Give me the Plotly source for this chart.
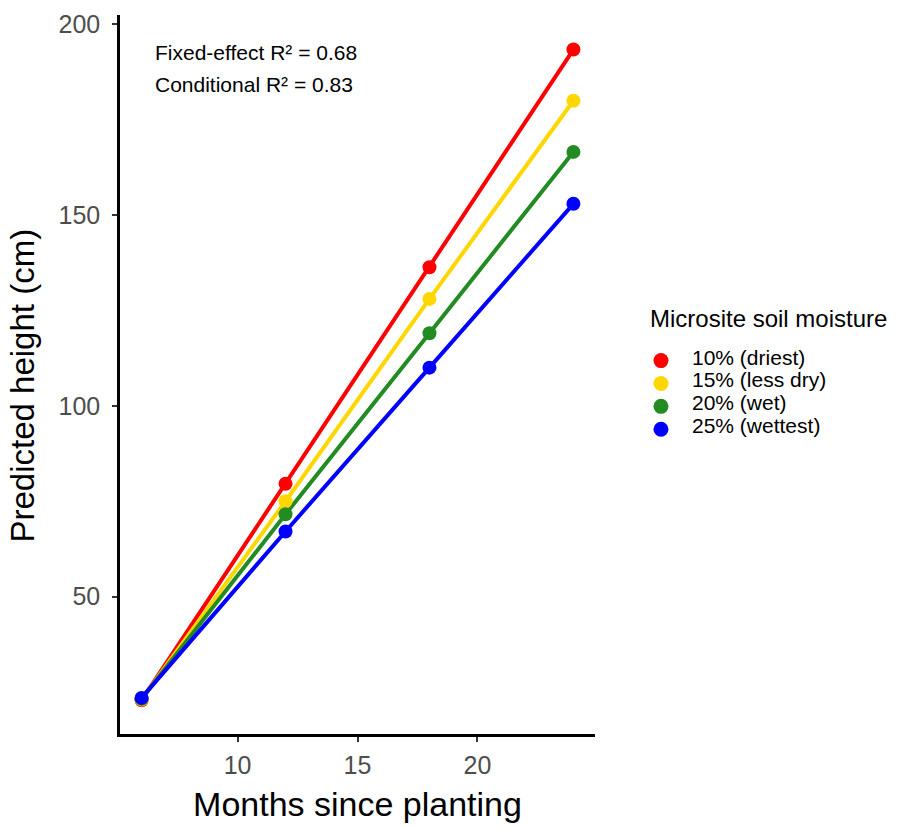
import plotly.graph_objects as go

# Predicted seedling height by months since planting, per microsite moisture level
months = [6, 12, 18, 24]
moisture_levels = ["10% (driest)", "15% (less dry)", "20% (wet)", "25% (wettest)"]
height_driest = [22.9, 79.6, 136.3, 193.3]
height_less_dry = [23.1, 75.0, 128.0, 179.9]
height_wet = [23.3, 71.6, 119.0, 166.5]
height_wettest = [23.5, 67.1, 110.0, 152.9]
series_colors = ["#FF0000", "#FFD700", "#228B22", "#0000FF"]

x_ticks = [10, 15, 20]
y_ticks = [50, 100, 150, 200]

fixed_r2 = 0.68
conditional_r2 = 0.83
legend_title = "Microsite soil moisture"
y_title = "Predicted height (cm)"

heights = [height_driest, height_less_dry, height_wet, height_wettest]

fig = go.Figure()

# Lines first, then points on top (blue drawn last)
for name, ys, col in zip(moisture_levels, heights, series_colors):
    fig.add_trace(go.Scatter(
        x=months, y=ys, mode="lines",
        line=dict(color=col, width=4),
        showlegend=False, hoverinfo="skip",
    ))
for name, ys, col in zip(moisture_levels, heights, series_colors):
    fig.add_trace(go.Scatter(
        x=months, y=ys, mode="markers", name=name,
        marker=dict(color=col, size=14),
        showlegend=False,
    ))

font_family = "Liberation Sans, Arial, sans-serif"

# R² annotations in the upper-left corner of the panel
fig.add_annotation(
    xref="paper", yref="paper", x=0.0695, y=0.9475,
    xanchor="left", yanchor="middle", showarrow=False,
    text=f"Fixed-effect R² = {fixed_r2:.2f}",
    font=dict(family=font_family, size=21, color="#000000"),
)
fig.add_annotation(
    xref="paper", yref="paper", x=0.0695, y=0.9035,
    xanchor="left", yanchor="middle", showarrow=False,
    text=f"Conditional R² = {conditional_r2:.2f}",
    font=dict(family=font_family, size=21, color="#000000"),
)

# Vertical axis title, centred on the panel
fig.add_annotation(
    xref="paper", yref="paper", x=-0.2063, y=0.5, yshift=-11,
    xanchor="center", yanchor="middle", showarrow=False,
    textangle=-90, text=y_title,
    font=dict(family=font_family, size=33, color="#000000"),
)

# Key placed to the right of the panel (compact ggplot-style spacing)
key_left = 1.1116
key_dot_x = 1.1389
key_text_x = 1.2
key_title_y = 0.578
key_first_y = 0.5193
key_step = 0.0318
fig.add_annotation(
    xref="paper", yref="paper", x=key_left, y=key_title_y,
    xanchor="left", yanchor="middle", showarrow=False,
    text=legend_title,
    font=dict(family=font_family, size=24, color="#000000"),
)
for i, (name, col) in enumerate(zip(moisture_levels, series_colors)):
    yy = key_first_y - i * key_step
    fig.add_shape(
        type="circle", xref="paper", yref="paper",
        xsizemode="pixel", ysizemode="pixel",
        xanchor=key_dot_x, yanchor=yy,
        x0=-7.5, x1=7.5, y0=-7.5, y1=7.5,
        fillcolor=col, line=dict(width=0),
    )
    fig.add_annotation(
        xref="paper", yref="paper", x=key_text_x, y=yy + 0.005,
        xanchor="left", yanchor="middle", showarrow=False,
        text=name,
        font=dict(family=font_family, size=21, color="#000000"),
    )

fig.update_layout(
    width=898, height=829,
    margin=dict(l=120, r=303, t=10, b=95),
    plot_bgcolor="white", paper_bgcolor="white",
    font=dict(family=font_family),
    showlegend=False,
    xaxis=dict(
        range=[5.1, 24.9], tickvals=x_ticks,
        showgrid=False, zeroline=False,
        showline=True, linecolor="#000000", linewidth=2.5,
        ticks="outside", ticklen=5, tickwidth=2, tickcolor="#333333",
        ticklabelstandoff=2,
        tickfont=dict(size=25, color="#4D4D4D"),
        title=dict(text="Months since planting", font=dict(size=34, color="#000000"), standoff=15),
    ),
    yaxis=dict(
        range=[14.05, 202.35], tickvals=y_ticks,
        showgrid=False, zeroline=False,
        showline=True, linecolor="#000000", linewidth=2.5,
        ticks="outside", ticklen=5, tickwidth=2, tickcolor="#333333",
        ticklabelstandoff=7,
        tickfont=dict(size=25, color="#4D4D4D"),
    ),
)

fig.write_html("out.html")
